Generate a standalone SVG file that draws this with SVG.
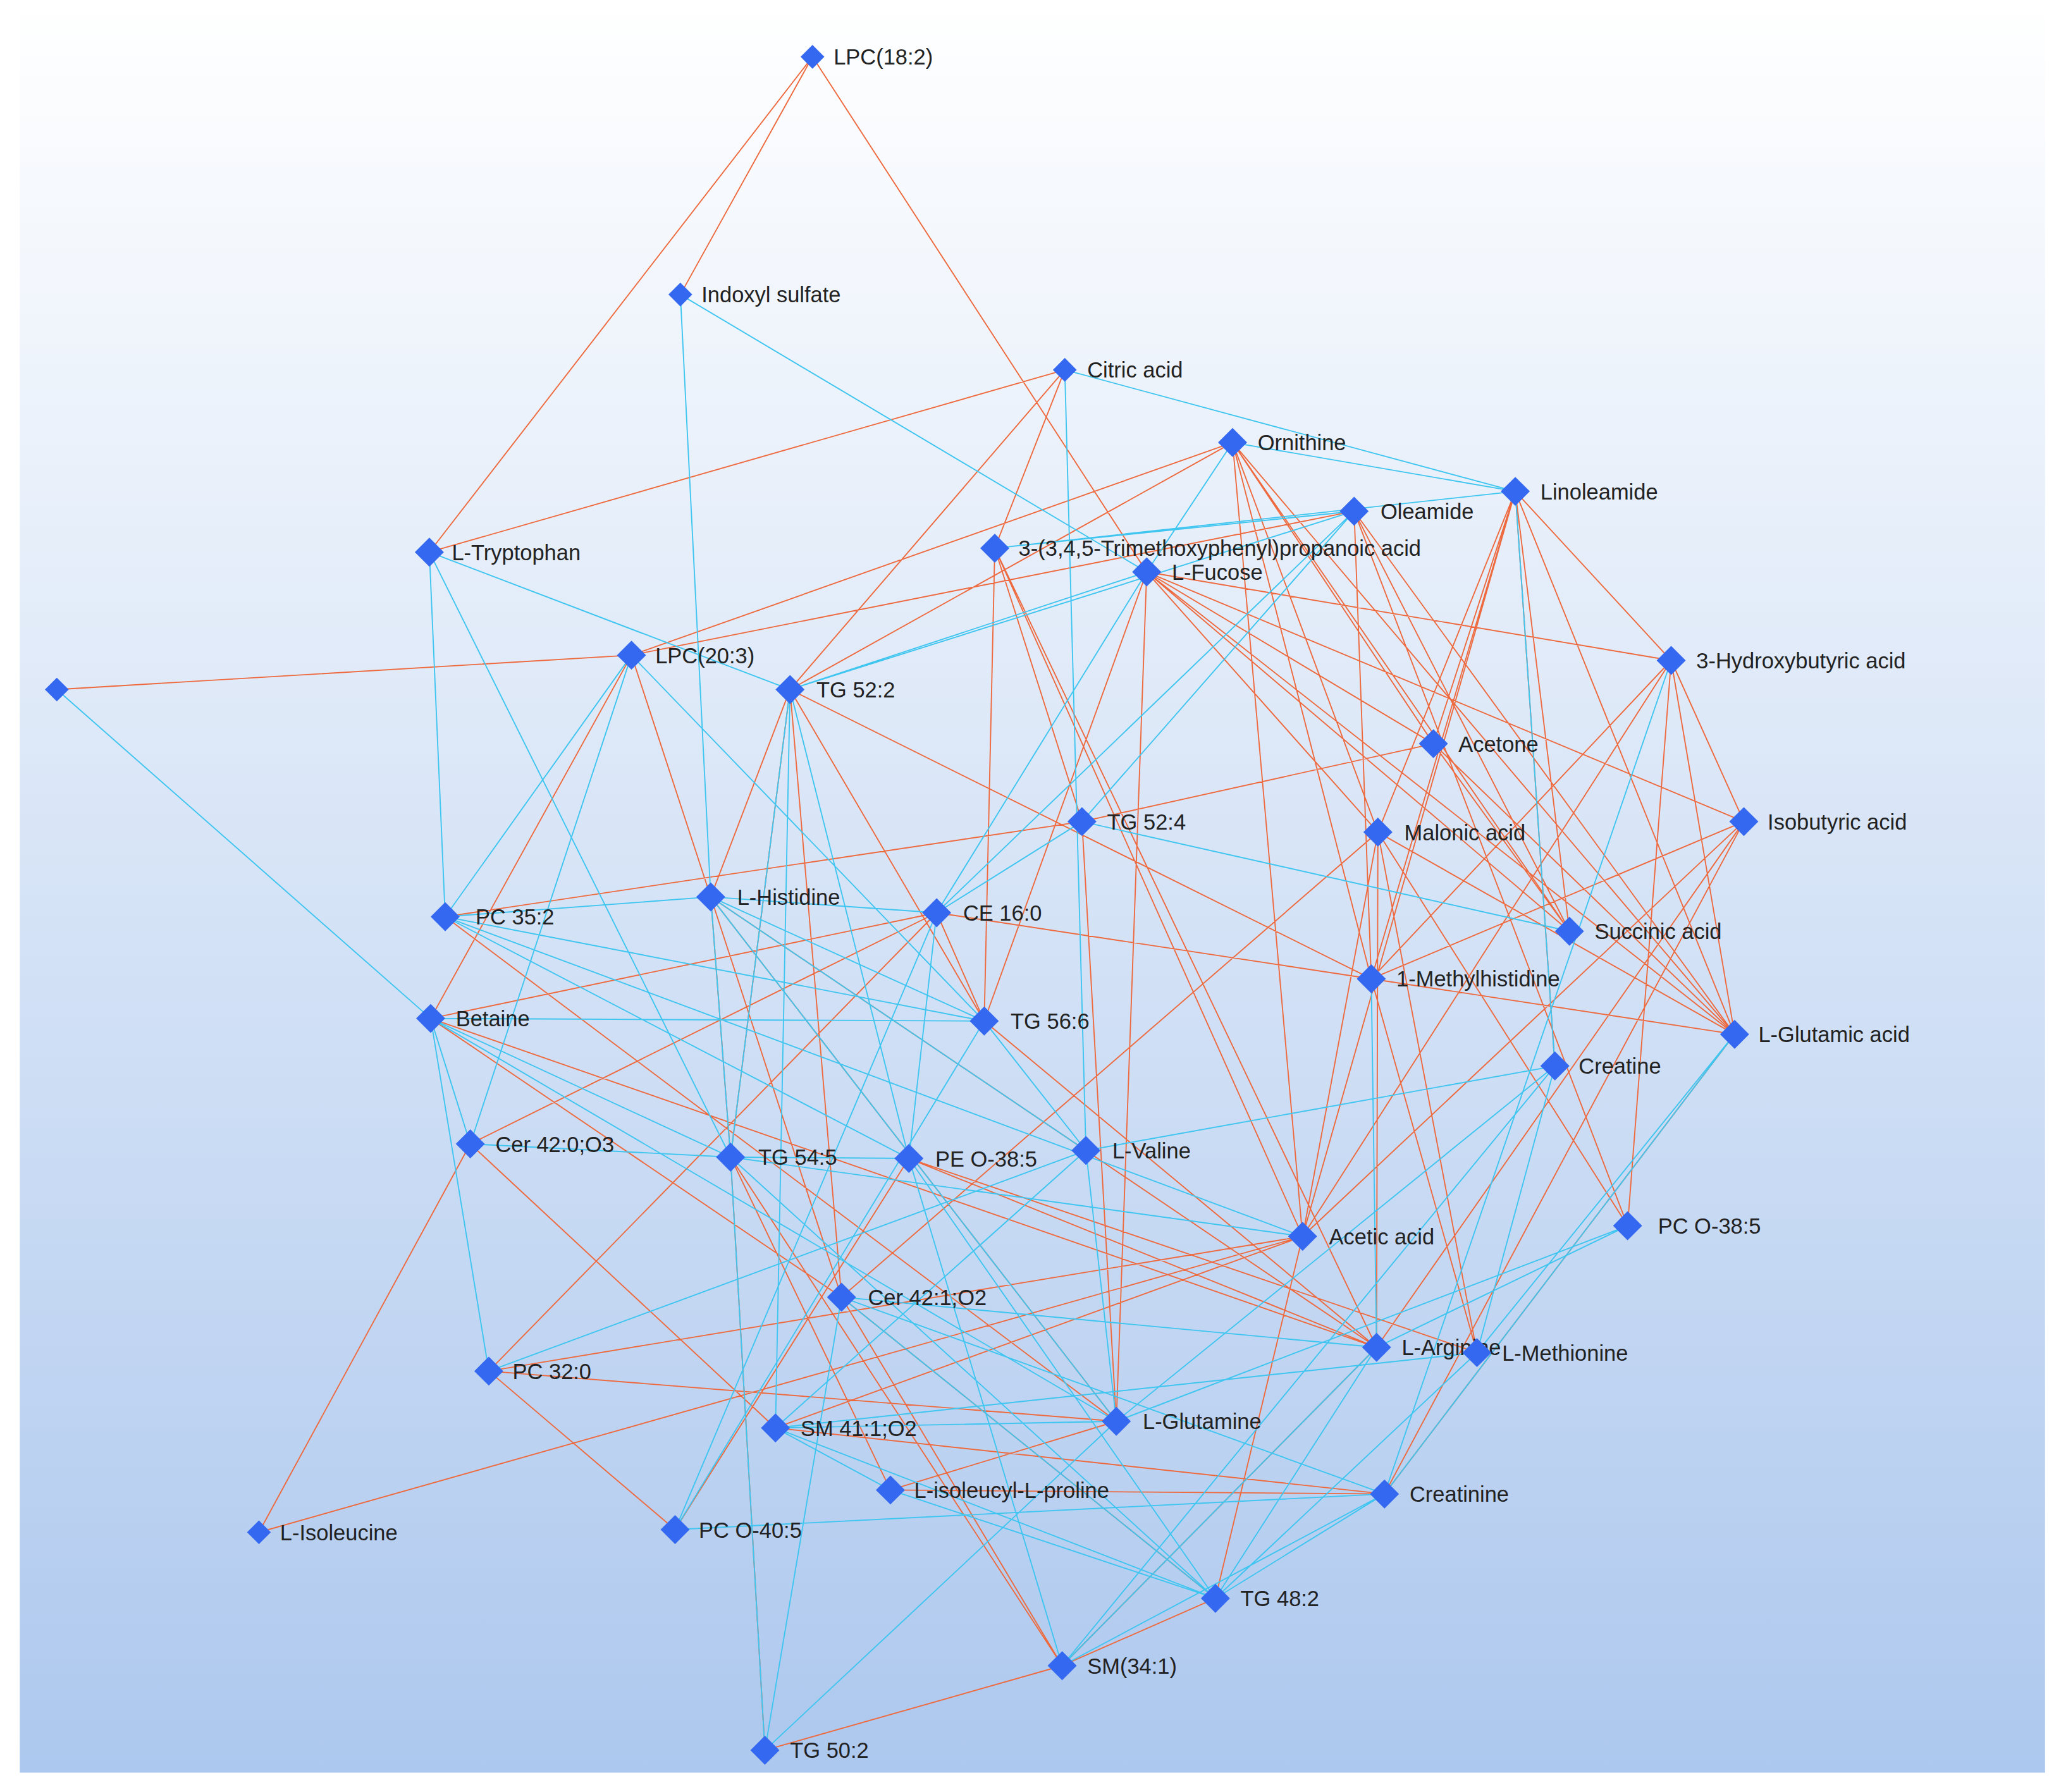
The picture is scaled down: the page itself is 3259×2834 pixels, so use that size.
<svg xmlns="http://www.w3.org/2000/svg" xmlns:xlink="http://www.w3.org/1999/xlink" width="3259" height="2834" viewBox="0 0 3259 2834">
<defs>
<linearGradient id="bg" x1="0" y1="0" x2="0" y2="1"><stop offset="0" stop-color="#ffffff"/><stop offset="1" stop-color="#adc8ee"/></linearGradient>
<path id="d" d="M0,-11 L11,0 L0,11 L-11,0 Z" fill="#3568f0"/>
<path id="s" d="M0,-9 L9,0 L0,9 L-9,0 Z" fill="#3568f0"/>
<style>
.o{stroke:#ee6a3e;stroke-width:0.9;fill:none}
.b{stroke:#3ec5f0;stroke-width:0.9;fill:none}
text{font-family:"Liberation Sans",Arial,sans-serif;font-size:16.5px;fill:#222}
</style>
</defs>
<rect width="3259" height="2834" fill="#fff"/>
<g transform="scale(2.089)">
<rect x="15" y="0" width="1533" height="1342" fill="url(#bg)"/>
<g id="edges">
<path class="o" d="M615,43L325,418M615,43L515,223M615,43L868,433M43,522L478,496M806,280L325,418M806,280L753,415M806,280L598,522M933,335L478,496M933,335L598,522M933,335L1085,563M933,335L1043,630M933,335L1188,705M933,335L1313,783M933,335L986,936M933,335L1038,741M1147,372L1043,630M1147,372L1085,563M1147,372L986,936M1147,372L1038,741M1147,372L1177,807M1147,372L1313,783M1147,372L1188,705M1147,372L1265,500M1025,387L1038,741M1025,387L1313,783M1025,387L1232,928M1025,387L1188,705M753,415L745,773M753,415L819,622M753,415L1042,1020M753,415L986,936M868,433L1085,563M868,433L1043,630M868,433L1320,622M868,433L1265,500M868,433L1188,705M868,433L1313,783M868,433L845,1076M868,433L745,773M478,496L538,679M478,496L326,771M478,496L1025,387M598,522L538,679M598,522L637,982M598,522L553,876M598,522L1038,741M538,679L637,982M538,679L553,876M538,679L822,871M326,771L1042,1020M326,771L637,982M337,694L819,622M337,694L845,1076M709,691L1038,741M709,691L356,866M709,691L370,1038M709,691L326,771M356,866L196,1160M356,866L587,1081M688,877L1118,1024M688,877L1042,1020M688,877L511,1158M553,876L674,1128M553,876L804,1261M553,876L579,1325M637,982L1043,630M637,982L804,1261M637,982L920,1210M370,1038L845,1076M370,1038L511,1158M370,1038L986,936M196,1160L986,936M587,1081L1048,1131M587,1081L986,936M674,1128L1048,1131M674,1128L845,1076M804,1261L579,1325M804,1261L920,1210M804,1261L1042,1020M920,1210L986,936M845,1076L819,622M986,936L1043,630M986,936L1320,622M986,936L1265,500M1042,1020L1043,630M1042,1020L745,773M1042,1020L822,871M1118,1024L1038,741M1118,1024L1043,630M1232,928L1265,500M1232,928L1043,630M1048,1131L1313,783M1038,741L1265,500M1038,741L1320,622M1038,741L1313,783M1043,630L1313,783M1085,563L1313,783M1085,563L1188,705M1085,563L819,622M1320,622L1042,1020M1265,500L1320,622M1265,500L1313,783M1320,622L1048,1131M709,691L745,773M538,679L845,1076M598,522L745,773"/>
<path class="b" d="M515,223L538,679M515,223L868,433M806,280L1147,372M806,280L822,871M325,418L337,694M325,418L598,522M325,418L553,876M43,522L326,771M933,335L868,433M933,335L1147,372M1147,372L753,415M1147,372L1177,807M1025,387L753,415M1025,387L598,522M1025,387L819,622M1025,387L709,691M1265,500L1048,1131M868,433L598,522M868,433L709,691M478,496L337,694M478,496L745,773M478,496L356,866M598,522L587,1081M598,522L688,877M598,522L553,876M337,694L538,679M337,694L745,773M337,694L986,936M337,694L688,877M326,771L745,773M326,771L370,1038M326,771L553,876M326,771L356,866M326,771L845,1076M538,679L709,691M538,679L745,773M538,679L822,871M538,679L553,876M538,679L845,1076M709,691L688,877M709,691L819,622M709,691L511,1158M819,622L1188,705M553,876L688,877M553,876L986,936M553,876L579,1325M553,876L920,1210M688,877L920,1210M688,877L804,1261M822,871L745,773M822,871L1177,807M822,871L845,1076M822,871L587,1081M637,982L920,1210M637,982L1048,1131M637,982L1042,1020M1313,783L1048,1131M1313,783L1118,1024M1232,928L845,1076M1232,928L1042,1020M1042,1020L1038,741M1042,1020L920,1210M1042,1020L804,1261M1177,807L845,1076M1177,807L804,1261M1177,807L1118,1024M1118,1024L920,1210M1118,1024L587,1081M1048,1131L804,1261M1048,1131L511,1158M1048,1131L920,1210M587,1081L674,1128M587,1081L920,1210M587,1081L845,1076M511,1158L745,773M579,1325L845,1076M579,1325L637,982M674,1128L920,1210M370,1038L822,871M356,866L553,876"/>
</g>
<g id="n1"><use href="#s" x="615" y="43"/><text x="631" y="49">LPC(18:2)</text></g>
<g id="n2"><use href="#s" x="515" y="223"/><text x="531" y="229">Indoxyl sulfate</text></g>
<g id="n3"><use href="#s" x="806" y="280"/><text x="823" y="286">Citric acid</text></g>
<g id="n4"><use href="#d" x="933" y="335"/><text x="952" y="341">Ornithine</text></g>
<g id="n5"><use href="#d" x="1147" y="372"/><text x="1166" y="378">Linoleamide</text></g>
<g id="n6"><use href="#d" x="1025" y="387"/><text x="1045" y="393">Oleamide</text></g>
<g id="n7"><use href="#d" x="753" y="415"/><text x="771" y="421">3-(3,4,5-Trimethoxyphenyl)propanoic acid</text></g>
<g id="n8"><use href="#d" x="868" y="433"/><text x="887" y="439">L-Fucose</text></g>
<g id="n9"><use href="#d" x="325" y="418"/><text x="342" y="424">L-Tryptophan</text></g>
<g id="n10"><use href="#d" x="478" y="496"/><text x="496" y="502">LPC(20:3)</text></g>
<g id="n11"><use href="#s" x="43" y="522"/></g>
<g id="n12"><use href="#d" x="598" y="522"/><text x="618" y="528">TG 52:2</text></g>
<g id="n13"><use href="#d" x="1265" y="500"/><text x="1284" y="506">3-Hydroxybutyric acid</text></g>
<g id="n14"><use href="#d" x="1085" y="563"/><text x="1104" y="569">Acetone</text></g>
<g id="n15"><use href="#d" x="819" y="622"/><text x="838" y="628">TG 52:4</text></g>
<g id="n16"><use href="#d" x="1043" y="630"/><text x="1063" y="636">Malonic acid</text></g>
<g id="n17"><use href="#d" x="1320" y="622"/><text x="1338" y="628">Isobutyric acid</text></g>
<g id="n18"><use href="#d" x="538" y="679"/><text x="558" y="685">L-Histidine</text></g>
<g id="n19"><use href="#d" x="337" y="694"/><text x="360" y="700">PC 35:2</text></g>
<g id="n20"><use href="#d" x="709" y="691"/><text x="729" y="697">CE 16:0</text></g>
<g id="n21"><use href="#d" x="1188" y="705"/><text x="1207" y="711">Succinic acid</text></g>
<g id="n22"><use href="#d" x="1038" y="741"/><text x="1057" y="747">1-Methylhistidine</text></g>
<g id="n23"><use href="#d" x="326" y="771"/><text x="345" y="777">Betaine</text></g>
<g id="n24"><use href="#d" x="745" y="773"/><text x="765" y="779">TG 56:6</text></g>
<g id="n25"><use href="#d" x="1313" y="783"/><text x="1331" y="789">L-Glutamic acid</text></g>
<g id="n26"><use href="#d" x="1177" y="807"/><text x="1195" y="813">Creatine</text></g>
<g id="n27"><use href="#d" x="356" y="866"/><text x="375" y="872">Cer 42:0;O3</text></g>
<g id="n28"><use href="#d" x="553" y="876"/><text x="574" y="882">TG 54:5</text></g>
<g id="n29"><use href="#d" x="688" y="877"/><text x="708" y="883">PE O-38:5</text></g>
<g id="n30"><use href="#d" x="822" y="871"/><text x="842" y="877">L-Valine</text></g>
<g id="n31"><use href="#d" x="986" y="936"/><text x="1006" y="942">Acetic acid</text></g>
<g id="n32"><use href="#d" x="1232" y="928"/><text x="1255" y="934">PC O-38:5</text></g>
<g id="n33"><use href="#d" x="637" y="982"/><text x="657" y="988">Cer 42:1;O2</text></g>
<g id="n34"><use href="#d" x="1042" y="1020"/><text x="1061" y="1026">L-Arginine</text></g>
<g id="n35"><use href="#d" x="1118" y="1024"/><text x="1137" y="1030">L-Methionine</text></g>
<g id="n36"><use href="#d" x="370" y="1038"/><text x="388" y="1044">PC 32:0</text></g>
<g id="n37"><use href="#d" x="845" y="1076"/><text x="865" y="1082">L-Glutamine</text></g>
<g id="n38"><use href="#d" x="587" y="1081"/><text x="606" y="1087">SM 41:1;O2</text></g>
<g id="n39"><use href="#d" x="674" y="1128"/><text x="692" y="1134">L-isoleucyl-L-proline</text></g>
<g id="n40"><use href="#d" x="1048" y="1131"/><text x="1067" y="1137">Creatinine</text></g>
<g id="n41"><use href="#s" x="196" y="1160"/><text x="212" y="1166">L-Isoleucine</text></g>
<g id="n42"><use href="#d" x="511" y="1158"/><text x="529" y="1164">PC O-40:5</text></g>
<g id="n43"><use href="#d" x="920" y="1210"/><text x="939" y="1216">TG 48:2</text></g>
<g id="n44"><use href="#d" x="804" y="1261"/><text x="823" y="1267">SM(34:1)</text></g>
<g id="n45"><use href="#d" x="579" y="1325"/><text x="598" y="1331">TG 50:2</text></g>
</g>
</svg>
